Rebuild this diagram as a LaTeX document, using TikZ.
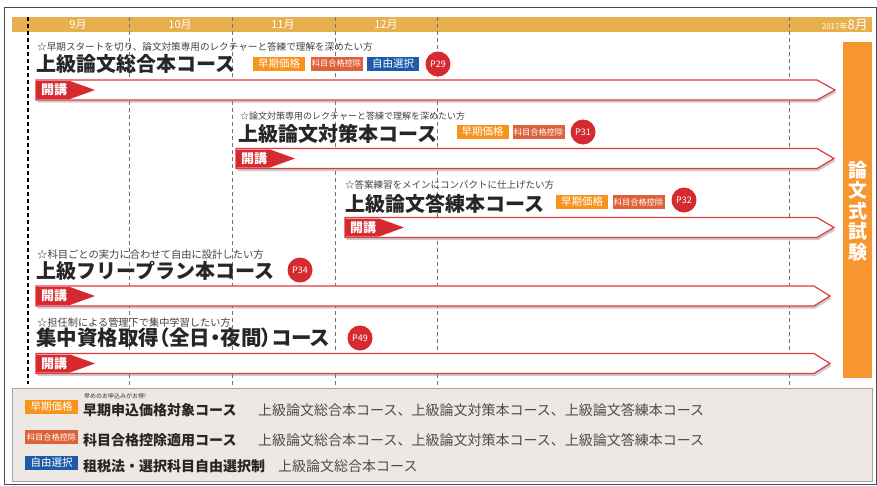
\documentclass[tikz,border=0pt]{standalone}
\usepackage{fontspec}
\setmainfont{Noto Sans CJK JP}
\usetikzlibrary{shadows}

\definecolor{bandgold}{HTML}{E8B04C}
\definecolor{earlyorange}{HTML}{F7941D}
\definecolor{kamokured}{HTML}{DD6239}
\definecolor{freeblue}{HTML}{1D5BA8}
\definecolor{pagered}{HTML}{D42A30}
\definecolor{barred}{HTML}{E0393E}
\definecolor{shikenorange}{HTML}{F7962F}
\definecolor{panelbg}{HTML}{EDE8E3}

\tikzset{
  ttl/.style={anchor=west, inner sep=0pt, text=black!85, font=\bfseries\fontsize{20}{20}\selectfont},
  subline/.style={anchor=west, inner sep=0pt, text=black!75, font=\fontsize{9.6}{10}\selectfont},
  tagbox/.style={fill=#1, text=white, minimum width=52pt, minimum height=14pt, inner sep=0pt},
  pagedot/.style={circle, fill=pagered, text=white, minimum size=25pt, inner sep=0pt, font=\fontsize{9}{9}\selectfont},
  barbox/.style={draw=barred, line width=1.2pt, fill=white,
    drop shadow={opacity=.4, shadow xshift=1.5pt, shadow yshift=-2.5pt}},
  kaikoflag/.style={fill=pagered},
  kaiko/.style={anchor=west, inner sep=0pt, text=white, font=\bfseries\fontsize{13}{13}\selectfont},
  monthline/.style={black!55, line width=.5pt, dash pattern=on 4pt off 3pt},
  month/.style={text=white, inner sep=0pt, font=\fontsize{11}{11}\selectfont},
  legendttl/.style={anchor=west, inner sep=0pt, text=black!85, font=\bfseries\fontsize{14}{14}\selectfont},
  legendlist/.style={anchor=west, inner sep=0pt, text=black!70, font=\fontsize{14}{14}\selectfont},
}
\newcommand{\tagfont}{\fontsize{10.5}{10}\selectfont}
\newcommand{\tagfontsmall}{\fontsize{8.2}{8}\selectfont}

\begin{document}
\begin{tikzpicture}[x=1pt, y=-1pt]
\useasboundingbox (0,0) rectangle (877,485);

%% frame and month band
\draw [black!70, line width=1pt] (4,7) rectangle (876,484); % outer frame
\fill [bandgold] (12,17) rectangle (872,32); % month band
\draw [monthline, black, line width=1.2pt] (28,17) -- (28,384); % start line
\draw [monthline] (129,17) -- (129,385);
\draw [monthline] (232,17) -- (232,385);
\draw [monthline] (335,17) -- (335,385);
\draw [monthline] (437,17) -- (437,385);
\draw [monthline] (789,17) -- (789,385);
\node [month] (m9) at (78,25) {9月};
\node [month] (m10) at (180,25) {10月};
\node [month] (m11) at (283,25) {11月};
\node [month] (m12) at (386,25) {12月};
\node [month, anchor=east] (m8) at (868,25) {{\fontsize{8}{8}\selectfont 2017年}{\fontsize{13}{13}\selectfont 8月}};

%% exam bar on the right
\fill [shikenorange] (843,42) rectangle (872,378);
\node [text=white, align=center, inner sep=0pt, font=\bfseries\fontsize{19}{20.5}\selectfont] (shiken) at (857.5,211) {論\\文\\式\\試\\験};

%% row 1: sogo
\node [subline] (sub1) at (37,47) {☆早期スタートを切り、論文対策専用のレクチャーと答練で理解を深めたい方};
\node [ttl] (ttl1) at (36,64) {上級論文総合本コース};
\node [tagbox=earlyorange] (early1) at (279,63.5) {\tagfont 早期価格};
\node [tagbox=kamokured] (kamoku1) at (336.5,63.5) {\tagfontsmall 科目合格控除};
\node [tagbox=freeblue] (free1) at (393,63.5) {\tagfont 自由選択};
\node [pagedot] (p29) at (438,64) {P29};
\draw [barbox] (36,80) -- (817,80) -- (835,90) -- (817,100) -- (36,100) -- cycle;
\fill [kaikoflag] (36,81) -- (70,81) -- (95,90) -- (70,99) -- (36,99) -- cycle;
\node [kaiko] (kk1) at (41,90) {開講};

%% row 2: taisaku
\node [subline, font=\fontsize{9}{10}\selectfont] (sub2) at (240,116) {☆論文対策専用のレクチャーと答練で理解を深めたい方};
\node [ttl] (ttl2) at (238,134) {上級論文対策本コース};
\node [tagbox=earlyorange] (early2) at (482.5,132) {\tagfont 早期価格};
\node [tagbox=kamokured] (kamoku2) at (538.5,132) {\tagfontsmall 科目合格控除};
\node [pagedot] (p31) at (583,132) {P31};
\draw [barbox] (236,148.5) -- (817,148.5) -- (834,158.5) -- (817,168.5) -- (236,168.5) -- cycle;
\fill [kaikoflag] (236,149.5) -- (270,149.5) -- (295,158.5) -- (270,167.5) -- (236,167.5) -- cycle;
\node [kaiko] (kk2) at (241,158.5) {開講};

%% row 3: toren
\node [subline, font=\fontsize{9.5}{10}\selectfont] (sub3) at (345,185) {☆答案練習をメインにコンパクトに仕上げたい方};
\node [ttl] (ttl3) at (345,204) {上級論文答練本コース};
\node [tagbox=earlyorange] (early3) at (582,202) {\tagfont 早期価格};
\node [tagbox=kamokured] (kamoku3) at (638.5,202) {\tagfontsmall 科目合格控除};
\node [pagedot] (p32) at (684,200) {P32};
\draw [barbox] (345,217.5) -- (817,217.5) -- (834,227.5) -- (817,237.5) -- (345,237.5) -- cycle;
\fill [kaikoflag] (345,218.5) -- (379,218.5) -- (404,227.5) -- (379,236.5) -- (345,236.5) -- cycle;
\node [kaiko] (kk3) at (350,227.5) {開講};

%% row 4: free plan
\node [subline, font=\fontsize{10.3}{11}\selectfont] (sub4) at (37,255) {☆科目ごとの実力に合わせて自由に設計したい方};
\node [ttl] (ttl4) at (36,271) {上級フリープラン本コース};
\node [pagedot] (p34) at (300,270) {P34};
\draw [barbox] (36,286) -- (814,286) -- (830,296) -- (814,306) -- (36,306) -- cycle;
\fill [kaikoflag] (36,287) -- (70,287) -- (95,296) -- (70,305) -- (36,305) -- cycle;
\node [kaiko] (kk4) at (41,296) {開講};

%% row 5: shuchu
\node [subline, font=\fontsize{10.2}{11}\selectfont] (sub5) at (37,323) {☆担任制による管理下で集中学習したい方};
\node [ttl, font=\bfseries\fontsize{20.5}{20}\selectfont] (ttl5) at (36,338) {\addfontfeatures{RawFeature=+palt}集中資格取得（全日・夜間）コース};
\node [pagedot] (p49) at (360,338) {P49};
\draw [barbox] (36,353.5) -- (814,353.5) -- (830,363.5) -- (814,373.5) -- (36,373.5) -- cycle;
\fill [kaikoflag] (36,354.5) -- (70,354.5) -- (95,363.5) -- (70,372.5) -- (36,372.5) -- cycle;
\node [kaiko] (kk5) at (41,363.5) {開講};

%% legend panel
\draw [black!35, fill=panelbg] (12,388) rectangle (872,481);
\node [tagbox=earlyorange, minimum width=53pt] (lgearly) at (51.5,406.5) {\tagfont 早期価格};
\node [anchor=west, inner sep=0pt, text=black!80, font=\fontsize{6}{6}\selectfont] (osusume) at (84,396) {早めのお申込みがお得!};
\node [legendttl] (lgttl1) at (83,410) {早期申込価格対象コース};
\node [legendlist] (lglist1) at (258,410) {上級論文総合本コース、上級論文対策本コース、上級論文答練本コース};
\node [tagbox=kamokured, minimum width=53pt] (lgkamoku) at (51.5,437) {\tagfontsmall 科目合格控除};
\node [legendttl] (lgttl2) at (83,440) {科目合格控除適用コース};
\node [legendlist] (lglist2) at (258,440) {上級論文総合本コース、上級論文対策本コース、上級論文答練本コース};
\node [tagbox=freeblue, minimum width=53pt] (lgfree) at (51.5,463) {\tagfont 自由選択};
\node [legendttl] (lgttl3) at (83,466) {租税法・選択科目自由選択制};
\node [legendlist] (lglist3) at (278,466) {上級論文総合本コース};

\end{tikzpicture}
\end{document}
